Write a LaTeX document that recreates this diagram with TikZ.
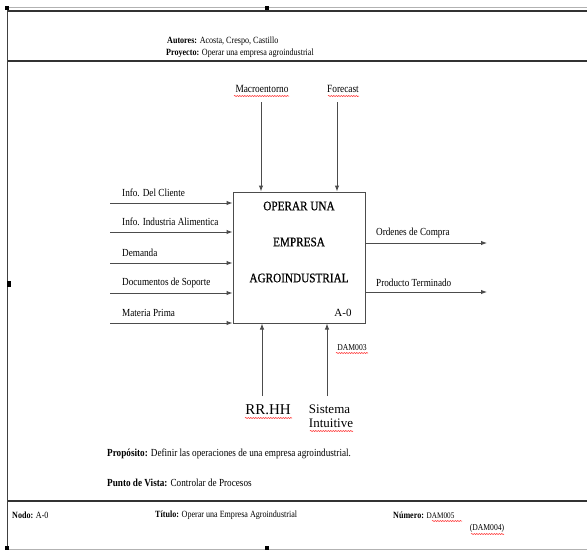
\documentclass[tikz,border=0pt]{standalone}
\usepackage{fontspec}
\setmainfont{Liberation Serif}[FakeStretch=0.85]
\newfontfamily\plainserif{Liberation Serif}
\newfontfamily\titleserif{Liberation Serif}[FakeStretch=0.85,FakeBold=0.6]
\usetikzlibrary{arrows.meta,decorations.pathmorphing}
\begin{document}
\begin{tikzpicture}[x=1pt,y=-1pt,
  frame/.style={line width=1.2pt,draw=black!80},
  conn/.style={line width=1pt,draw=black!70,-{Latex[length=6pt,width=4.5pt]}},
  lbl/.style={font=\fontsize{10.8}{12}\selectfont,inner sep=0pt,anchor=west},
  hdr/.style={font=\fontsize{9.5}{11}\selectfont,inner sep=0pt,anchor=west},
  purp/.style={font=\fontsize{10.8}{12}\selectfont,inner sep=0pt,anchor=west},
  titlefont/.style={font=\titleserif\fontsize{13.2}{14}\selectfont,inner sep=0pt},
  spell/.style={draw=red!85,line width=0.5pt,decorate,decoration={snake,amplitude=0.6pt,segment length=2.5pt}},
  handle/.style={fill=black,draw=none}]
\useasboundingbox (0,0) rectangle (587,552);
\fill[white] (0,0) rectangle (587,552);
% frame
\draw[line width=0.5pt,draw=black!30] (7,7) -- (587,7);
\draw[frame] (7,11) -- (587,11);
\draw[frame] (7,61) -- (587,61);
\draw[frame] (7,501) -- (587,501);
\draw[line width=0.5pt,draw=black!30] (7,549) -- (587,549);
\draw[line width=1pt,draw=black!75] (7,9) -- (7,547);
\fill[handle] (5,6) rectangle (9,10);
\fill[handle] (265,6) rectangle (269,10);
\fill[handle] (7,281) rectangle (11,287);
\fill[handle] (5,546) rectangle (9,550);
\fill[handle] (265,546) rectangle (269,550);
% header
\node[hdr] (autores) at (167,41) {\textbf{Autores:} Acosta, Crespo, Castillo};
\node[hdr] (proyecto) at (166,53) {\textbf{Proyecto:} Operar una empresa agroindustrial};
% main box
\node[draw=black!70,line width=1pt,minimum width=132pt,minimum height=131pt,inner sep=0pt] (box) at (299,257.5) {};
\node[titlefont] (t1) at (299,206) {OPERAR UNA};
\node[titlefont] (t2) at (299,242) {EMPRESA};
\node[titlefont] (t3) at (299,278) {AGROINDUSTRIAL};
\node[font=\plainserif\fontsize{11}{12}\selectfont,inner sep=0pt] (a0) at (343,313) {A-0};
% inputs
\foreach \y/\t/\n in {203/{Info. Del Cliente}/i1,232/{Info. Industria Alimentica}/i2,263/{Demanda}/i3,293/{Documentos de Soporte}/i4,323/{Materia Prima}/i5}{
  \coordinate (\n s) at (110,\y);
  \coordinate (\n e) at (box.west |- 0,\y);
  \draw[conn] (\n s) -- (\n e);
  \node[lbl] (\n l) at (122,\y-10) {\t};
}
% controls
\node[font=\fontsize{11}{12}\selectfont,inner sep=0pt] (macro) at (262,89) {Macroentorno};
\node[font=\fontsize{11}{12}\selectfont,inner sep=0pt] (fore) at (343,89) {Forecast};
\coordinate (c1) at (261,102);
\coordinate (c2) at (337,102);
\draw[conn] (c1) -- (c1 |- box.north);
\draw[conn] (c2) -- (c2 |- box.north);
\draw[spell] (234,96) -- (289,96);
\draw[spell] (328,96) -- (359,96);
% outputs
\coordinate (o1) at (487,243);
\coordinate (o2) at (487,292);
\draw[conn] (box.east |- o1) -- (o1);
\draw[conn] (box.east |- o2) -- (o2);
\node[lbl] (o1l) at (376,233) {Ordenes de Compra};
\node[lbl] (o2l) at (376,283) {Producto Terminado};
% mechanisms
\coordinate (m1) at (262,396);
\coordinate (m2) at (327,396);
\draw[conn] (m1) -- (m1 |- box.south);
\draw[conn] (m2) -- (m2 |- box.south);
\node[font=\plainserif\fontsize{15}{16}\selectfont,inner sep=0pt] (rrhh) at (268,410) {RR.HH};
\node[font=\plainserif\fontsize{13}{14}\selectfont,inner sep=0pt,align=left] (sis) at (331,416) {Sistema\\Intuitive};
\draw[spell] (245,418) -- (292,418);
\draw[spell] (310,431) -- (353,431);
\node[font=\fontsize{9}{10}\selectfont,inner sep=0pt] (dam3) at (352,348) {DAM003};
\draw[spell] (336,353) -- (368,353);
% purpose
\node[purp] (prop) at (107,454) {\textbf{Propósito:} Definir las operaciones de una empresa agroindustrial.};
\node[purp] (punto) at (107,483) {\textbf{Punto de Vista:} Controlar de Procesos};
% footer
\node[hdr] (nodo) at (12,515) {\textbf{Nodo:} A-0};
\node[hdr] (titulo) at (155,515) {\textbf{Título:} Operar una Empresa Agroindustrial};
\node[hdr] (numero) at (393,515) {\textbf{Número:} {\fontsize{8.5}{9}\selectfont DAM005}};
\draw[spell] (432,521) -- (462,521);
\node[font=\fontsize{9}{10}\selectfont,inner sep=0pt] (dam4) at (487,528) {(DAM004)};
\draw[spell] (471,534) -- (504,534);
\end{tikzpicture}
\end{document}
